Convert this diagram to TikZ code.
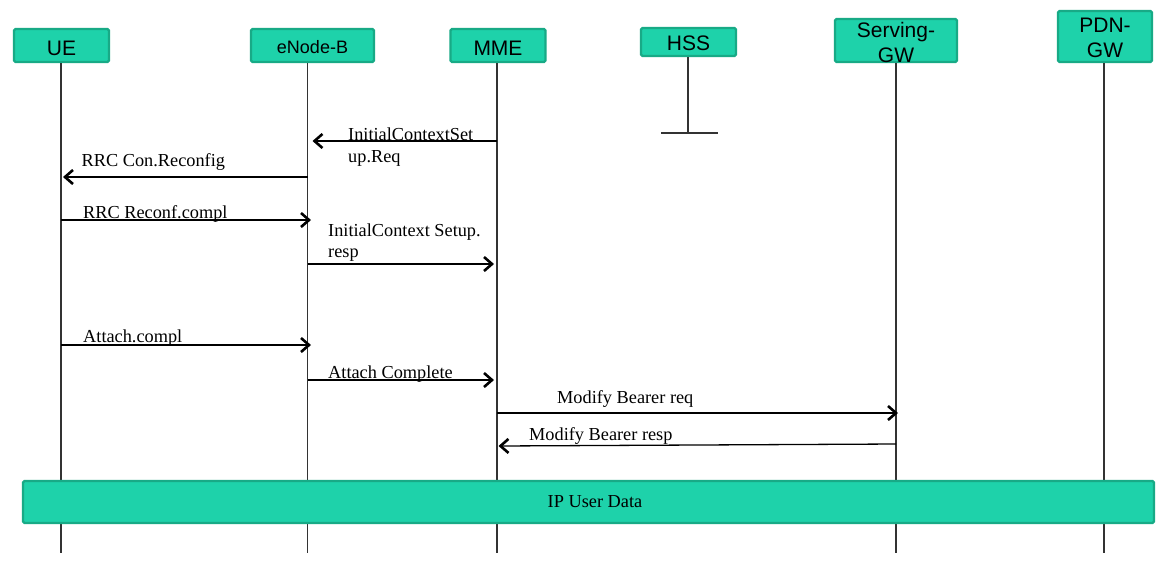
\documentclass[tikz,border=0pt]{standalone}
\usepackage{fontspec}
\setmainfont{Liberation Serif}
\setsansfont{Liberation Sans}
\usetikzlibrary{arrows.meta}
\definecolor{boxfill}{HTML}{1ED2AA}
\definecolor{boxline}{HTML}{18AA86}
\begin{document}
\begin{tikzpicture}[x=1pt,y=-1pt,
  actor/.style={draw=boxline, fill=boxfill, line width=2.4pt, rounded corners=1.5pt,
    inner sep=0pt, font=\sffamily\fontsize{21}{25}\selectfont, text depth=0pt},
  life/.style={line width=1.1pt, draw=black!80},
  msg/.style={line width=1.3pt, -{Straight Barb[length=8pt,width=14pt,line width=2.6pt]}},
  lbl/.style={font=\fontsize{18.3}{22}\selectfont, inner sep=0pt, anchor=base west}]
\useasboundingbox[fill=white] (0,0) rectangle (1163,566);

% actors
\node[actor, minimum width=95pt, minimum height=33pt, text height=19pt] (ue) at (61.5,45.5) {UE};
\node[actor, minimum width=123pt, minimum height=33pt, text height=15.6pt,
      font=\sffamily\fontsize{18}{22}\selectfont] (enb) at (312.5,45.5) {eNode-B};
\node[actor, minimum width=95pt, minimum height=33pt, text height=19pt] (mme) at (498,45.5) {MME};
\node[actor, minimum width=95pt, minimum height=28pt, text height=17.4pt] (hss) at (688.5,42) {HSS};
\node[actor, minimum width=122pt, minimum height=43pt, text height=43pt] (sgw) at (896,40.5)
  {\parbox[b]{118pt}{\centering Serving-\\GW}};
\node[actor, minimum width=94pt, minimum height=51pt, text height=41.6pt] (pdn) at (1105,36.5)
  {\parbox[b]{90pt}{\centering PDN-\\GW}};

% lifelines
\coordinate (uel) at (61,63);
\coordinate (enbl) at (307.5,63);
\coordinate (mmel) at (497,63);
\coordinate (hssl) at (688,57);
\coordinate (sgwl) at (896,63);
\coordinate (pdnl) at (1104,63);
\coordinate (hssend) at (688,133);
\coordinate (hssT1) at (661,133);
\coordinate (hssT2) at (718,133);
\draw[life] (uel) -- (uel |- 0,553);
\draw[life] (enbl) -- (enbl |- 0,553);
\draw[life] (mmel) -- (mmel |- 0,553);
\draw[life] (sgwl) -- (sgwl |- 0,553);
\draw[life] (pdnl) -- (pdnl |- 0,553);
\draw[life] (hssl) -- (hssend);
\draw[life] (hssT1) -- (hssT2);

% messages
\draw[msg] (mmel |- 0,141) -- ([xshift=5pt]enbl |- 0,141);
\draw[msg] (enbl |- 0,177) -- ([xshift=2pt]uel |- 0,177);
\draw[msg] (uel |- 0,220) -- ([xshift=3.5pt]enbl |- 0,220);
\draw[msg] (enbl |- 0,264) -- ([xshift=-3pt]mmel |- 0,264);
\draw[msg] (uel |- 0,345) -- ([xshift=3.5pt]enbl |- 0,345);
\draw[msg] (enbl |- 0,380) -- ([xshift=-3pt]mmel |- 0,380);
\draw[msg] (mmel |- 0,413) -- ([xshift=2pt]sgwl |- 0,413);
\draw[msg] (sgwl |- 0,444) -- ([xshift=1.5pt]mmel |- 0,446);

% labels
\node[lbl] (t1a) at (348,140) {InitialContextSet};
\node[lbl] (t1b) at (348,162.5) {up.Req};
\node[lbl] (t2) at (81.5,166.5) {RRC Con.Reconfig};
\node[lbl] (t3) at (83,218) {RRC Reconf.compl};
\node[lbl] (t4a) at (328,236.5) {InitialContext Setup.};
\node[lbl] (t4b) at (328,257) {resp};
\node[lbl] (t5) at (83,342.5) {Attach.compl};
\node[lbl] (t6) at (328,378.3) {Attach Complete};
\node[lbl] (t7) at (557,403.3) {Modify Bearer req};
\node[lbl] (t8) at (529,440) {Modify Bearer resp};

% data bar
\node[draw=boxline, fill=boxfill, line width=2.4pt, rounded corners=1.5pt, inner sep=0pt,
      minimum width=1131pt, minimum height=42pt, font=\fontsize{18.3}{22}\selectfont]
  (data) at (588.5,502) {\hspace*{13pt}IP User Data};
\end{tikzpicture}
\end{document}
